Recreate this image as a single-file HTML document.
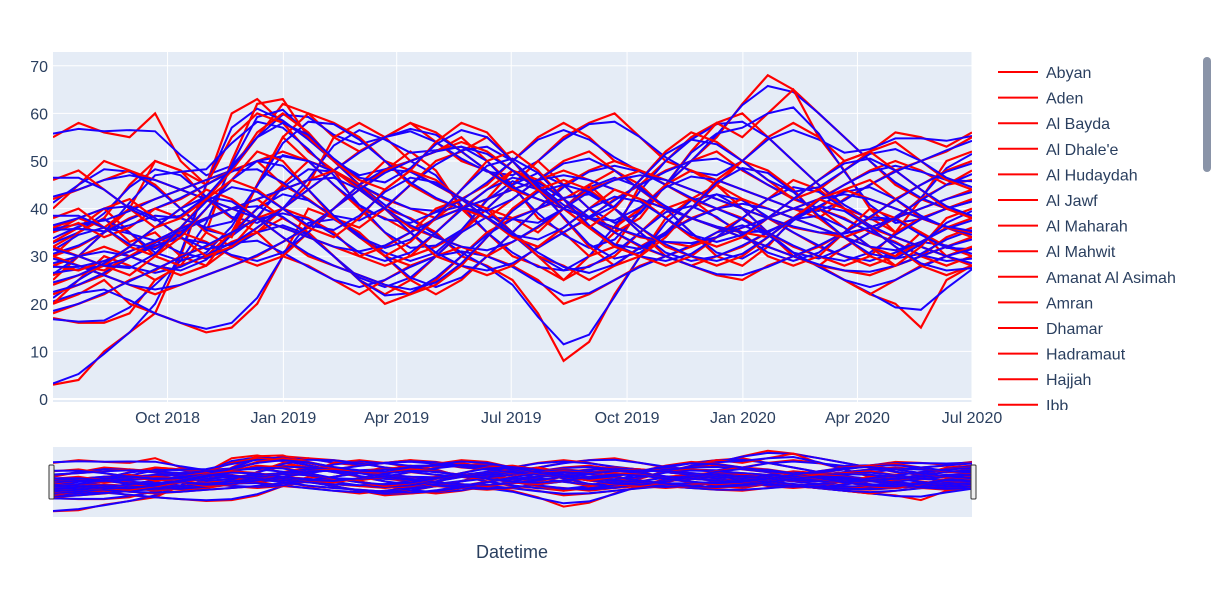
<!DOCTYPE html>
<html><head><meta charset="utf-8"><style>
body{margin:0;background:#fff;font-family:"Liberation Sans",sans-serif;}
svg text{font-family:"Liberation Sans",sans-serif;fill:#2a3f5f;}
</style></head><body>
<svg id="c" width="1231" height="586">
<rect x="53" y="52" width="919" height="350" fill="#e5ecf6"/>
<g id="grid"></g>
<g id="series" clip-path="url(#cp)"></g>
<defs><clipPath id="cp"><rect x="53" y="52" width="919" height="350"/></clipPath>
<clipPath id="cp2"><rect x="53" y="447" width="919" height="70"/></clipPath>
<clipPath id="cl"><rect x="990" y="55" width="215" height="355"/></clipPath></defs>
<rect x="53" y="447" width="919" height="70" fill="#e5ecf6"/>
<g id="mini" clip-path="url(#cp2)"></g>
<rect x="49" y="465" width="5" height="34" rx="1" fill="#eee" stroke="#333"/>
<rect x="971" y="465" width="5" height="34" rx="1" fill="#eee" stroke="#333"/>
<g id="legend" clip-path="url(#cl)"></g>
<rect x="1203" y="57" width="8" height="115" rx="4" fill="#8a94a8"/>
<text x="512" y="558" text-anchor="middle" font-size="18">Datetime</text>
</svg>
<script>
const yTicks=[0,10,20,30,40,50,60,70];
const xTickLabels=["Oct 2018","Jan 2019","Apr 2019","Jul 2019","Oct 2019","Jan 2020","Apr 2020","Jul 2020"];
const xTickDays=[91,183,273,364,456,548,639,730];
const names=["Abyan","Aden","Al Bayda","Al Dhale'e","Al Hudaydah","Al Jawf","Al Maharah","Al Mahwit","Amanat Al Asimah","Amran","Dhamar","Hadramaut","Hajjah","Ibb"];
const s=[
[55,58,56,55,60,50,45,48,55,62,60,55,52,55,58,54,50,48,45,50,55,58,60,55,50,48,45,50,55,58,55,50,52,56,55,53,56],
[3,4,10,14,18,30,45,60,63,58,55,50,45,48,52,48,40,35,30,28,25,30,35,45,50,55,58,60,55,50,45,40,38,35,42,50,52],
[17,16,16,18,25,28,35,50,62,63,55,50,45,40,38,35,30,28,25,18,8,12,22,30,38,42,45,40,35,30,28,25,22,20,15,25,28],
[32,35,38,45,50,48,42,38,35,40,45,55,58,55,50,52,55,50,45,38,35,30,32,40,45,50,55,62,68,65,60,55,50,45,42,40,38],
[25,30,35,40,50,48,45,55,60,58,52,48,40,35,30,32,35,40,45,50,45,40,35,38,45,52,58,55,60,65,55,48,40,35,38,40,42],
[20,22,25,20,18,16,14,15,20,30,40,38,35,30,28,30,35,42,48,45,38,32,28,30,35,40,45,42,38,35,32,30,28,30,35,32,30],
[30,35,38,33,35,30,28,32,35,38,35,30,25,22,25,30,35,40,38,35,40,45,48,45,40,35,30,28,32,38,42,45,48,50,48,45,46],
[40,45,50,48,45,40,35,32,38,45,50,48,45,42,40,38,42,45,50,55,58,55,50,48,45,42,40,38,35,30,28,32,35,38,42,45,48],
[33,36,40,35,30,28,30,35,45,55,50,45,40,38,35,40,42,38,35,30,25,28,30,35,40,42,38,35,30,28,30,35,40,38,35,30,32],
[20,25,30,28,25,28,30,33,35,30,28,25,22,25,28,30,32,30,28,25,20,22,25,28,30,32,35,38,35,30,28,25,22,25,28,30,32],
[28,30,32,30,28,26,28,35,40,45,42,38,35,30,25,22,25,30,35,40,45,48,50,48,45,42,40,38,35,32,30,28,30,35,38,40,42],
[35,38,36,40,42,44,46,48,50,45,42,38,36,40,45,50,52,55,50,45,40,38,36,40,45,48,46,44,42,40,38,42,45,48,50,52,55],
[22,24,26,30,33,35,38,40,42,38,35,30,25,20,22,25,30,35,38,40,42,45,40,35,30,28,30,32,35,38,40,36,32,28,30,34,36],
[30,32,35,38,40,42,45,48,50,52,50,48,45,40,35,30,28,26,28,32,35,38,42,45,48,50,52,48,45,42,40,38,35,33,30,28,30],
[26,28,27,30,32,35,33,30,28,30,35,40,45,50,48,45,42,40,35,30,28,25,28,32,35,38,40,42,40,38,36,34,32,30,33,36,38],
[35,37,34,36,40,38,36,34,45,55,60,58,55,50,45,42,40,38,42,46,50,52,48,44,40,38,36,35,34,38,40,44,46,42,38,36,34],
[18,20,22,25,27,30,32,35,38,40,38,35,30,28,30,35,40,44,48,46,42,38,35,32,30,28,26,25,28,30,32,35,38,42,45,48,50],
[42,44,46,48,46,44,42,40,38,36,34,32,30,32,35,38,40,42,44,46,48,46,44,42,40,38,36,34,32,30,28,27,26,28,30,32,34],
[30,28,26,24,22,24,26,28,30,33,36,40,44,48,50,52,54,52,48,44,40,36,32,30,28,30,34,38,42,46,44,40,36,34,32,30,28],
[36,38,40,42,38,34,30,32,36,40,44,48,52,55,58,56,52,48,44,42,40,38,36,34,33,32,34,36,38,40,42,44,42,40,38,36,35],
[28,27,29,31,33,36,38,40,42,44,46,48,44,40,36,34,32,30,33,36,40,44,46,48,46,44,42,40,38,36,35,34,36,38,40,42,44],
[38,40,36,32,30,34,40,46,52,50,44,38,34,30,33,38,44,50,52,48,42,36,32,30,34,40,46,50,48,44,38,34,30,28,32,38,40],
[24,26,28,32,36,40,44,42,38,34,30,28,26,24,22,24,28,34,40,44,46,44,40,36,32,30,28,30,34,38,42,40,36,32,28,26,28],
[46,48,44,40,36,38,42,48,56,60,56,50,46,44,48,54,58,56,50,44,40,36,40,46,52,56,54,50,46,42,44,48,52,54,50,46,44],
[32,30,28,26,30,36,42,46,44,40,36,34,38,44,48,46,42,38,34,32,36,40,44,42,38,34,32,34,38,42,46,50,52,48,44,40,38]
];
const NS='http://www.w3.org/2000/svg';
const X0=53,X1=972,D=730;
const xs=d=>X0+d/D*(X1-X0);
const ys=v=>399-v*4.76;
const ym=v=>514-v*0.93;
const grid=document.getElementById('grid');
function mk(t,a,p){const e=document.createElementNS(NS,t);for(const k in a)e.setAttribute(k,a[k]);p.appendChild(e);return e;}
yTicks.forEach(v=>{
 const l=mk('line',{x1:X0,x2:X1,y1:ys(v),y2:ys(v),stroke:'#fff','stroke-width':v==0?2:1},grid);
 
 
 const t=mk('text',{x:48,y:ys(v)+6,'text-anchor':'end','font-size':16},grid);t.textContent=v;
 
 
});
xTickDays.forEach((d,i)=>{
 const l=mk('line',{x1:xs(d),x2:xs(d),y1:52,y2:402,stroke:'#fff','stroke-width':1},grid);
 
 
 const t=mk('text',{x:xs(d),y:423,'text-anchor':'middle','font-size':16},grid);t.textContent=xTickLabels[i];
 
 
});
const sg=document.getElementById('series'),mg=document.getElementById('mini');
function path(arr,f){const n=arr.length;return arr.map((v,i)=>(i?'L':'M')+xs(i*D/(n-1)).toFixed(1)+','+f(v).toFixed(1)).join('');}
function smooth(a){return a.map((v,i)=>{const p=a[Math.max(0,i-1)],q=a[Math.min(a.length-1,i+1)];return (p+2*v+q)/4;});}
s.forEach((arr,i)=>{
 const r=mk('path',{d:path(arr,ys),fill:'none',stroke:'#ff0000','stroke-width':2.2},sg);
 
 
 const b=mk('path',{d:path(smooth(arr),ys),fill:'none',stroke:'#1a00ff','stroke-width':2},sg);
 
 
 const r2=mk('path',{d:path(arr,ym),fill:'none',stroke:'#ff0000','stroke-width':2},mg);
 
 
 const b2=mk('path',{d:path(smooth(arr),ym),fill:'none',stroke:'#1a00ff','stroke-width':2},mg);
 
 
});
const lg=document.getElementById('legend');
names.forEach((n,i)=>{
 const y=72+i*25.6;
 const g=mk('g',{},lg);
 
 
 mk('line',{x1:998,x2:1038,y1:y,y2:y,stroke:'#ff0000','stroke-width':2},g);
 const t=mk('text',{x:1046,y:y+6,'font-size':16},g);t.textContent=n;
});
</script>
</body></html>
